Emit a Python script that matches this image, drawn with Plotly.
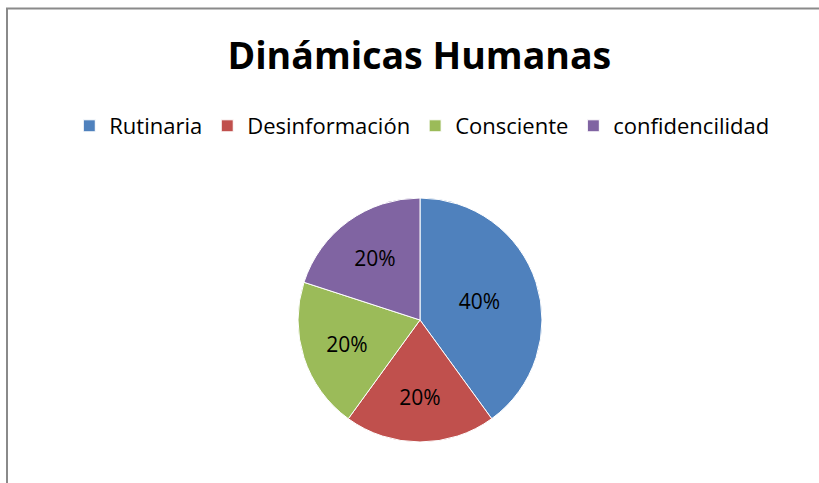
import plotly.graph_objects as go

categories = ["Rutinaria", "Desinformación", "Consciente", "confidencilidad"]
values = [40, 20, 20, 20]
colors = ["#4F81BD", "#C0504D", "#9BBB59", "#8064A2"]

W, H = 819, 483
FONT = "Open Sans, Noto Sans, Liberation Sans, sans-serif"

fig = go.Figure(go.Pie(
    labels=categories,
    values=values,
    sort=False,
    direction="clockwise",
    rotation=0,
    marker=dict(colors=colors, line=dict(color="white", width=1)),
    textinfo="percent",
    texttemplate="%{percent:.0%}",
    textposition="inside",
    insidetextorientation="horizontal",
    textfont=dict(color="black", size=21, family=FONT),
    domain=dict(x=[298 / W, 542 / W], y=[1 - 442 / H, 1 - 198 / H]),
    hoverinfo="label+percent",
))

fig.update_layout(
    width=W, height=H,
    margin=dict(l=0, r=0, t=0, b=0),
    paper_bgcolor="white",
    plot_bgcolor="white",
    title=dict(
        text="<b>Dinámicas Humanas</b>",
        x=0.512, xanchor="center",
        y=1 - 56 / H, yanchor="middle",
        font=dict(size=37.5, color="black", family=FONT),
    ),
    showlegend=True,
    legend=dict(
        orientation="h",
        x=0.515, xanchor="center",
        y=1 - 126 / H, yanchor="middle",
        font=dict(size=22, color="black", family=FONT),
        traceorder="normal",
    ),
    shapes=[
        dict(type="line", xref="paper", yref="paper",
             x0=6 / W, x1=1, y0=1 - 8.5 / H, y1=1 - 8.5 / H,
             line=dict(color="#8A8A8A", width=2)),
        dict(type="line", xref="paper", yref="paper",
             x0=7 / W, x1=7 / W, y0=0, y1=1 - 8 / H,
             line=dict(color="#8A8A8A", width=2)),
    ],
)

fig.write_html(
    "out.html",
    config={"displayModeBar": False},
    post_script="document.body.style.margin='0';document.body.style.overflow='hidden';",
)
